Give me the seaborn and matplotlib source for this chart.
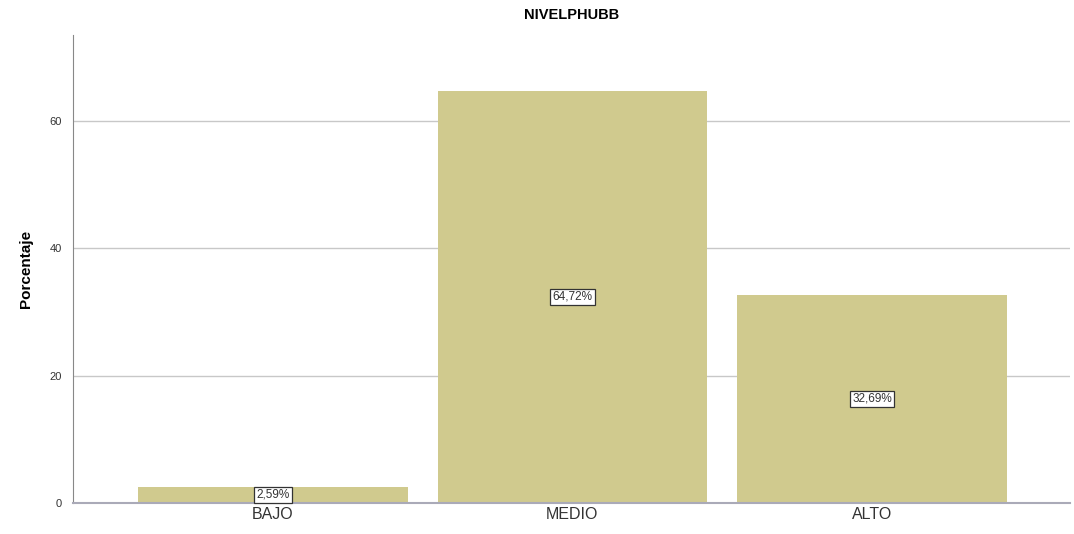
import seaborn as sns
import matplotlib.pyplot as plt
import pandas as pd

categorias = ['BAJO', 'MEDIO', 'ALTO']
porcentajes = [2.59, 64.72, 32.69]
etiquetas = ['2,59%', '64,72%', '32,69%']

BAR_COLOR = '#D0CA8E'

df = pd.DataFrame({'nivel': categorias, 'pct': porcentajes})

sns.set_style('white')
plt.rcParams['font.family'] = ['Liberation Sans', 'DejaVu Sans']

fig = plt.figure(figsize=(10.74, 5.34), dpi=100)
ax = fig.add_axes([0.068, 0.058, 0.928, 0.876])

sns.barplot(data=df, x='nivel', y='pct', color=BAR_COLOR, width=0.9,
            saturation=1, linewidth=0, ax=ax, zorder=2)

# label boxes in the middle of each bar
for i, (v, lab) in enumerate(zip(porcentajes, etiquetas)):
    ax.text(i, v / 2, lab, ha='center', va='center', fontsize=8.5, color='#333333',
            bbox=dict(boxstyle='square,pad=0.18', facecolor='white',
                      edgecolor='#333333', linewidth=0.9), zorder=3)

ax.set_xlim(-0.667, 2.66)
ax.set_ylim(0, 73.4)
ax.set_yticks([0, 20, 40, 60])
ax.yaxis.grid(True, color='#C8C8C8', linewidth=1, zorder=0)
ax.set_axisbelow(True)

for side in ['top', 'right']:
    ax.spines[side].set_visible(False)
ax.spines['left'].set_color('#888888')
ax.spines['bottom'].set_color('#AAAAB8')
ax.spines['bottom'].set_linewidth(1.5)

ax.tick_params(axis='y', labelsize=8, colors='#333333', length=0, pad=8)
ax.tick_params(axis='x', labelsize=11.5, colors='#333333', length=0, pad=3)

ax.set_xlabel('')
ax.set_ylabel('Porcentaje', fontsize=11, fontweight='bold', labelpad=12, color='black')
ax.set_title('NIVELPHUBB', fontsize=10.5, fontweight='bold', pad=12, color='black')

plt.savefig('out.png', dpi=100)
plt.close()
